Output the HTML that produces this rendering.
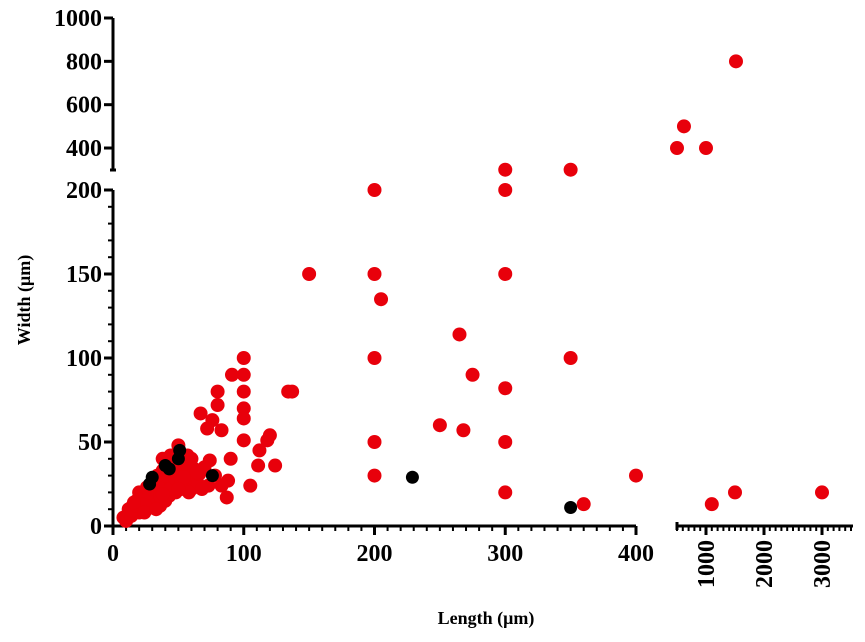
<!DOCTYPE html>
<html><head><meta charset="utf-8"><style>
html,body{margin:0;padding:0;background:#fff;}
svg{display:block;font-family:"Liberation Serif",serif;font-weight:bold;}
</style></head><body>
<svg id="chart" width="865" height="642" viewBox="0 0 865 642" xmlns="http://www.w3.org/2000/svg">
<g id="axes"></g>
<g id="marks"></g>
<text transform="translate(30,300) rotate(-90)" text-anchor="middle" font-size="18">Width (μm)</text>
<text x="486" y="624" text-anchor="middle" font-size="18">Length (μm)</text>
</svg>
<script>
const redX=[150,200,200,205,200,200,200,265,275,250,268,300,300,300,300,300,350,360,400,300,350,500,620,1000,1517,1100,1500,3000,
100,91,100,80,100,100,100,134,137,67,80,76,72,83,100,118,112,120,90,111,124,105,87,88,73,83,60,74,44,78,
8,10,12,14,15,17,18,20,20,22,23,25,25,27,28,30,30,30,32,33,35,35,37,38,40,40,40,42,43,45,45,47,48,50,50,52,55,55,58,60,62,65,66,38,45,32,36,26,20,55,60,50,70,68,
12,15,18,22,24,28,30,34,36,40,44,48,52,56,58,62,16,26,34,42,46,54,64,24,33,38,50,57];
const redY=[150,200,150,135,100,50,30,114,90,60,57,200,150,82,50,20,100,13,30,300,300,400,500,400,800,13,20,20,
100,90,90,80,80,70,64,80,80,67,72,63,58,57,51,51,45,54,40,36,36,24,17,27,24,24,33,39,42,30,
5,3,8,6,12,10,15,8,14,18,11,20,14,17,22,12,18,25,28,15,20,30,25,33,15,22,28,35,18,25,30,38,20,27,33,22,30,25,35,22,28,25,31,40,42,13,12,10,20,38,40,48,35,22,
10,9,12,16,13,20,22,24,18,30,22,28,25,30,20,34,14,23,30,33,36,29,32,8,10,19,22,42];
const blackX=[51,50,40,43,30,28,76,229,350];
const blackY=[45,40,36,34,29,25,30,29,11];
const yLowTicks=[0,50,100,150,200];
const yHighTicks=[400,600,800,1000];
const xLowTicks=[0,100,200,300,400];
const xHighTicks=[1000,2000,3000];
const NS="http://www.w3.org/2000/svg";
function xs(v){return v<=450?113+v*1.3075:706+(v-1000)*0.058;}
function ys(v){return v<=250?526-v*1.68:18+(1000-v)*0.2167;}
function el(t,a,p){const e=document.createElementNS(NS,t);for(const k in a)e.setAttribute(k,a[k]);p.appendChild(e);return e;}
const ax=document.getElementById('axes');
const ln={stroke:'#000','stroke-width':3,fill:'none'};
let e=el('line',Object.assign({x1:113,y1:ys(0),x2:113,y2:ys(200)},ln),ax);


for(let v=0;v<=200;v+=10){el('line',{x1:v%50==0?104:108,x2:113,y1:ys(v),y2:ys(v),stroke:'#000','stroke-width':v%50==0?3:2},ax);}
yLowTicks.forEach(v=>{const t=el('text',{x:102,y:ys(v)+8,'text-anchor':'end','font-size':24},ax);t.textContent=v;

});
e=el('line',Object.assign({x1:113,y1:ys(1000),x2:113,y2:170},ln),ax);


el('line',{x1:110,x2:116,y1:170,y2:170,stroke:'#000','stroke-width':3},ax);
yHighTicks.forEach(v=>{el('line',{x1:104,x2:113,y1:ys(v),y2:ys(v),stroke:'#000','stroke-width':3},ax);
const t=el('text',{x:102,y:ys(v)+8,'text-anchor':'end','font-size':24},ax);t.textContent=v;

});
e=el('line',Object.assign({x1:113,y1:526,x2:xs(400),y2:526},ln),ax);


for(let v=0;v<=400;v+=10){el('line',{x1:xs(v),x2:xs(v),y1:526,y2:v%100==0?535:531,stroke:'#000','stroke-width':v%100==0?3:2},ax);}
xLowTicks.forEach(v=>{const t=el('text',{x:xs(v),y:561,'text-anchor':'middle','font-size':24},ax);t.textContent=v;

});
e=el('line',Object.assign({x1:677,y1:526,x2:853,y2:526},ln),ax);


el('line',{x1:677,x2:677,y1:522,y2:530,stroke:'#000','stroke-width':3},ax);
for(let v=500;v<=3540;v+=100){el('line',{x1:xs(v),x2:xs(v),y1:526,y2:v%1000==0?535:531,stroke:'#000','stroke-width':v%1000==0?3:2},ax);}
xHighTicks.forEach(v=>{const t=el('text',{transform:`translate(${xs(v)+8},540) rotate(-90)`,'text-anchor':'end','font-size':24},ax);t.textContent=v;

});
const mk=document.getElementById('marks');
redX.forEach((x,i)=>{const c=el('circle',{cx:xs(x),cy:ys(redY[i]),r:7,fill:'#e8000b'},mk);

});
blackX.forEach((x,i)=>{const c=el('circle',{cx:xs(x),cy:ys(blackY[i]),r:6.5,fill:'#000'},mk);

});
</script>
</body></html>
